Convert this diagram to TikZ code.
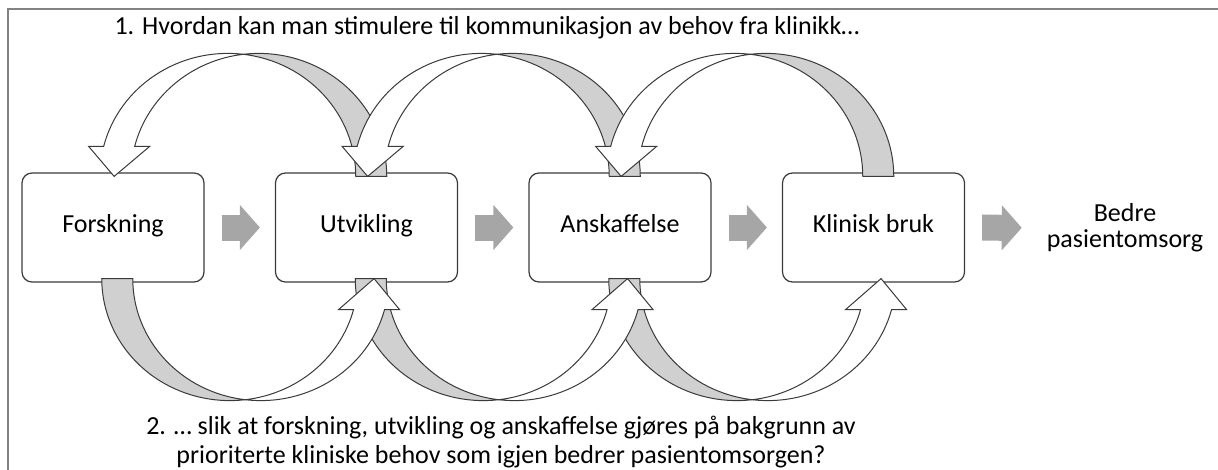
\documentclass[tikz,border=0pt]{standalone}
\usepackage{fontspec}
\setmainfont{Carlito}
\usepackage{tikz}
\usetikzlibrary{arrows.meta}
\usetikzlibrary{calc}
\definecolor{facegray}{HTML}{D0D0D0}
\definecolor{flowgray}{HTML}{A6A6A6}
\definecolor{edgegray}{HTML}{3A3A3A}
\definecolor{framegray}{HTML}{828282}

\begin{document}
\begin{tikzpicture}[x=0.5pt, y=-0.5pt, font=\fontsize{13}{15}\selectfont,
  stage/.style={draw=edgegray, line width=0.6pt, rounded corners=5pt, minimum width=91pt, minimum height=54.5pt,
    text height=0.7em, text depth=0.22em},
  flow/.style={draw=flowgray, line width=13pt, -{Triangle[width=22pt,length=10pt]}, shorten <=8.5pt, shorten >=7.5pt},
  backface/.style={fill=facegray, draw=edgegray, line width=0.5pt},
  frontface/.style={fill=white, draw=edgegray, line width=0.5pt},
]
\useasboundingbox (0,0) rectangle (1218,470);
\draw[framegray, line width=1pt] (8,9) rectangle (1240,490);

\node[stage] (fors) at (113, 227.5) {Forskning};
\node[stage] (utv) at (366.5, 227.5) {Utvikling};
\node[stage] (ansk) at (620, 227.5) {Anskaffelse};
\node[stage] (klin) at (873.5, 227.5) {Klinisk bruk};
\node[align=center, font=\fontsize{13}{13}\selectfont] (bedre) at (1125, 228) {Bedre\\pasientomsorg};

\node (q1) at (487, 28) {1. Hvordan kan man stimulere til kommunikasjon av behov fra klinikk…};
\node[align=center, font=\fontsize{13}{14.5}\selectfont] (q2) at (501, 442) {2. … slik at forskning, utvikling og anskaffelse gjøres på bakgrunn av\\prioriterte kliniske behov som igjen bedrer pasientomsorgen?};

\draw[flow] (fors) -- (utv);
\draw[flow] (utv) -- (ansk);
\draw[flow] (ansk) -- (klin);
\draw[flow, shorten >=9pt] (klin) -- (bedre);

% back faces of the curved arrows
\foreach \hd/\tl in {fors/utv, utv/ansk, ansk/klin} {
  \coordinate (c) at ($(\hd.north)!.5!(\tl.north)+(-12,4)$);
  \filldraw[backface] ($(c)+(128,0)$) arc[start angle=360, end angle=276.96, x radius=128, y radius=123]
    arc[start angle=263.04, end angle=360, x radius=128, y radius=123] -- cycle;
  \coordinate (d) at ($(\tl.south)!.5!(\hd.south)+(-10,-4)$);
  \filldraw[backface] ($(d)+(-128,0)$) arc[start angle=180, end angle=83.04, x radius=128, y radius=122]
    arc[start angle=96.96, end angle=180, x radius=128, y radius=122] -- cycle;
}
% front faces with heads
\foreach \hd/\tl in {fors/utv, utv/ansk, ansk/klin} {
  \coordinate (c) at ($(\hd.north)!.5!(\tl.north)+(-12,4)$);
  \filldraw[frontface] ($(c)+(-124.1,-30)$) arc[start angle=194.12, end angle=276.96, x radius=128, y radius=123]
    arc[start angle=263.04, end angle=194.12, x radius=128, y radius=123] -- ++(15,0)
    -- ($(c)+(-113.6,0)$) -- ($(c)+(-139.1,-30)$) -- cycle;
  \coordinate (d) at ($(\tl.south)!.5!(\hd.south)+(-10,-4)$);
  \filldraw[frontface] ($(d)+(123.8,31)$) arc[start angle=14.72, end angle=83.04, x radius=128, y radius=122]
    arc[start angle=96.96, end angle=14.72, x radius=128, y radius=122] -- ++(15,0)
    -- ($(d)+(144.3,0)$) -- ($(d)+(108.8,31)$) -- cycle;
}
\end{tikzpicture}
\end{document}
